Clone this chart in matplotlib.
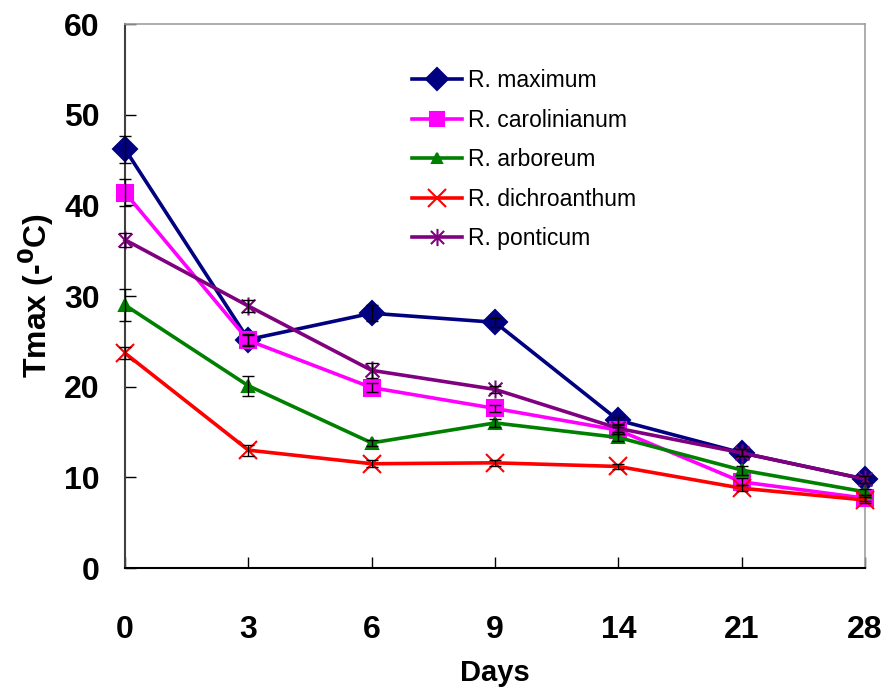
import numpy as np
import matplotlib
matplotlib.use('Agg')
import matplotlib.pyplot as plt
from matplotlib.path import Path

plt.rcParams['font.family'] = ['Liberation Sans', 'DejaVu Sans']

days = ['0', '3', '6', '9', '14', '21', '28']

maximum = [46.2, 25.2, 28.1, 27.1, 16.3, 12.7, 9.8]
maximum_err = [1.5, 0.6, 0.9, 0.5, 0.4, 0.4, 0.4]
carolinianum = [41.4, 25.1, 19.9, 17.6, 15.2, 9.5, 7.7]
carolinianum_err = [1.5, 0.6, 0.5, 0.4, 0.4, 0.4, 0.3]
arboreum = [29.0, 20.1, 13.8, 16.0, 14.4, 10.8, 8.4]
arboreum_err = [1.8, 1.1, 0.3, 0.4, 0.4, 0.5, 0.3]
dichroanthum = [23.7, 13.0, 11.5, 11.6, 11.2, 8.8, 7.5]
dichroanthum_err = [0.7, 0.6, 0.4, 0.3, 0.3, 0.3, 0.3]
ponticum = [36.2, 28.9, 21.8, 19.7, 15.4, 12.7, 9.8]
ponticum_err = [0.8, 0.7, 0.8, 0.4, 0.4, 0.4, 0.4]

# Excel style star: X plus a vertical bar
star = Path([(-1, -1), (1, 1), (-1, 1), (1, -1), (0, -1.3), (0, 1.3)],
            [Path.MOVETO, Path.LINETO, Path.MOVETO, Path.LINETO, Path.MOVETO, Path.LINETO])

series = [
    ('R. maximum', maximum, maximum_err, '#000080', 'D', 12),
    ('R. carolinianum', carolinianum, carolinianum_err, '#FF00FF', 's', 11),
    ('R. arboreum', arboreum, arboreum_err, '#008000', '^', 8),
    ('R. dichroanthum', dichroanthum, dichroanthum_err, '#FF0000', 'x', 13),
    ('R. ponticum', ponticum, ponticum_err, '#800080', star, 13),
]

fig = plt.figure(figsize=(8.87, 6.96), dpi=100)
ax = fig.add_axes([0.1409, 0.1839, 0.8343, 0.7816])
x = np.arange(len(days))

for name, vals, err, col, mk, ms in series:
    ax.errorbar(x, vals, yerr=err, fmt='none', ecolor='black', elinewidth=1,
                capsize=4, capthick=1, clip_on=False, zorder=4)
    ax.plot(x, vals, color=col, lw=2.6, marker=mk, markersize=ms,
            markerfacecolor=col, markeredgecolor=col, markeredgewidth=1.5,
            label=name, clip_on=False, zorder=3)

ax.set_xlim(0, 6)
ax.set_ylim(0, 60)
ax.set_xticks(x)
ax.set_xticklabels(days)
ax.set_yticks(np.arange(0, 61, 10))

for lab in ax.get_xticklabels() + ax.get_yticklabels():
    lab.set_fontweight('bold')
    lab.set_fontsize(23)
ax.tick_params(axis='x', direction='in', length=8, width=1, pad=34, color='black')
ax.tick_params(axis='y', direction='in', length=8, width=1, pad=18, color='black')

ax.spines['left'].set_color('#404040')
ax.spines['left'].set_linewidth(1.5)
ax.spines['bottom'].set_color('black')
ax.spines['bottom'].set_linewidth(1.5)
ax.spines['top'].set_color('#a0a0a0')
ax.spines['right'].set_color('#a0a0a0')
ax.spines['top'].set_linewidth(1.2)
ax.spines['right'].set_linewidth(1.2)

ax.set_xlabel('Days', fontsize=21, fontweight='bold', labelpad=10)
ax.set_ylabel('Tmax (-$^{\\mathbf{0}}$C)', fontsize=23, fontweight='bold', labelpad=6)

ax.legend(loc='upper left', bbox_to_anchor=(0.36, 0.955), frameon=False,
          fontsize=16.5, handlelength=2.2, labelspacing=0.72, handletextpad=0.25,
          markerscale=0.95)

fig.savefig('out.png', dpi=100)
